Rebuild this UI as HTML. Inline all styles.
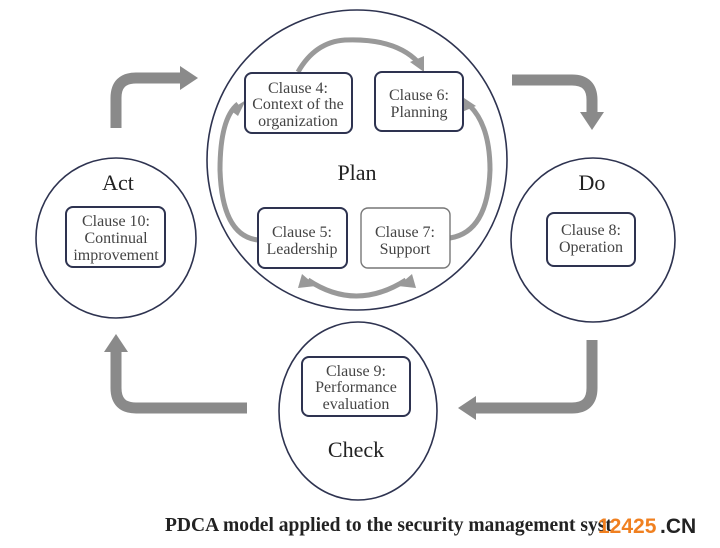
<!DOCTYPE html>
<html><head><meta charset="utf-8"><style>
html,body{margin:0;padding:0;background:#fff;}
svg{display:block}
text{font-family:"Liberation Serif",serif;fill:#333;text-anchor:middle}
.b{fill:#fff;stroke:#2e3350;stroke-width:2}
.c{fill:none;stroke:#2e3350;stroke-width:1.6}
.a{fill:none;stroke:#8a8a8a;stroke-width:11}
.ah{fill:#8a8a8a}
.t{font-size:16px;fill:#444}
.big{font-size:22px;fill:#222}
</style></head><body>
<svg width="720" height="548" viewBox="0 0 720 548">
<path class="a" d="M116 128 V98 Q116 78 136 78 H180"/>
<polygon class="ah" points="180,66 198,78 180,90"/>
<path class="a" d="M512 80 H572 Q592 80 592 100 V112"/>
<polygon class="ah" points="580,112 592,130 604,112"/>
<path class="a" d="M592 340 V388 Q592 408 572 408 H476"/>
<polygon class="ah" points="476,396 458,408 476,420"/>
<path class="a" d="M247 408 H136 Q116 408 116 388 V352"/>
<polygon class="ah" points="104,352 116,334 128,352"/>
<circle class="c" cx="357" cy="160" r="150"/>
<circle class="c" cx="116" cy="238" r="80"/>
<circle class="c" cx="593" cy="240" r="82"/>
<ellipse class="c" cx="358" cy="411" rx="79" ry="89"/>
<g style="fill:none;stroke:#999;stroke-width:5">
<path d="M298 72 Q315 42 345 40 Q395 38 418 62"/>
<path d="M258 240 Q222 236 220 170 Q220 118 238 104"/>
<path d="M450 238 Q488 232 490 170 Q490 126 470 106"/>
<path d="M308 280 Q356 312 406 280"/>
</g>
<g fill="#999">
<polygon points="410,62 424,72 424,56"/>
<polygon points="230,110 246,100 238,116"/>
<polygon points="462,112 476,106 464,98"/>
<polygon points="302,274 316,286 298,288"/>
<polygon points="412,274 398,286 416,288"/>
</g>
<rect class="b" x="245" y="73" width="107" height="60" rx="7"/>
<rect class="b" x="375" y="72" width="88" height="59" rx="7"/>
<rect class="b" x="258" y="208" width="89" height="60" rx="7"/>
<rect class="b" x="361" y="208" width="89" height="60" rx="7" style="stroke:#777;stroke-width:1.4"/>
<rect class="b" x="66" y="207" width="99" height="60" rx="7"/>
<rect class="b" x="547" y="213" width="88" height="53" rx="7"/>
<rect class="b" x="302" y="357" width="108" height="59" rx="7"/>
<text class="t" x="298" y="93">Clause 4:</text>
<text class="t" x="298" y="109">Context of the</text>
<text class="t" x="298" y="126">organization</text>
<text class="t" x="419" y="100">Clause 6:</text>
<text class="t" x="419" y="117">Planning</text>
<text class="t" x="302" y="237">Clause 5:</text>
<text class="t" x="302" y="254">Leadership</text>
<text class="t" x="405" y="237">Clause 7:</text>
<text class="t" x="405" y="254">Support</text>
<text class="t" x="116" y="226">Clause 10:</text>
<text class="t" x="116" y="243">Continual</text>
<text class="t" x="116" y="260">improvement</text>
<text class="t" x="591" y="235">Clause 8:</text>
<text class="t" x="591" y="252">Operation</text>
<text class="t" x="356" y="376">Clause 9:</text>
<text class="t" x="356" y="392">Performance</text>
<text class="t" x="356" y="409">evaluation</text>
<text class="big" x="357" y="180">Plan</text>
<text class="big" x="118" y="190">Act</text>
<text class="big" x="592" y="190">Do</text>
<text class="big" x="356" y="457">Check</text>
<text x="165" y="531" style="text-anchor:start;font-size:19.5px;font-weight:bold;fill:#222">PDCA model applied to the security management syst</text>
<text x="598" y="533" style="text-anchor:start;font-family:'Liberation Sans',sans-serif;font-size:21px;font-weight:bold;fill:#f08020">12425</text>
<text x="660" y="533" style="text-anchor:start;font-family:'Liberation Sans',sans-serif;font-size:21px;font-weight:bold;fill:#222">.CN</text>
</svg>
</body></html>
